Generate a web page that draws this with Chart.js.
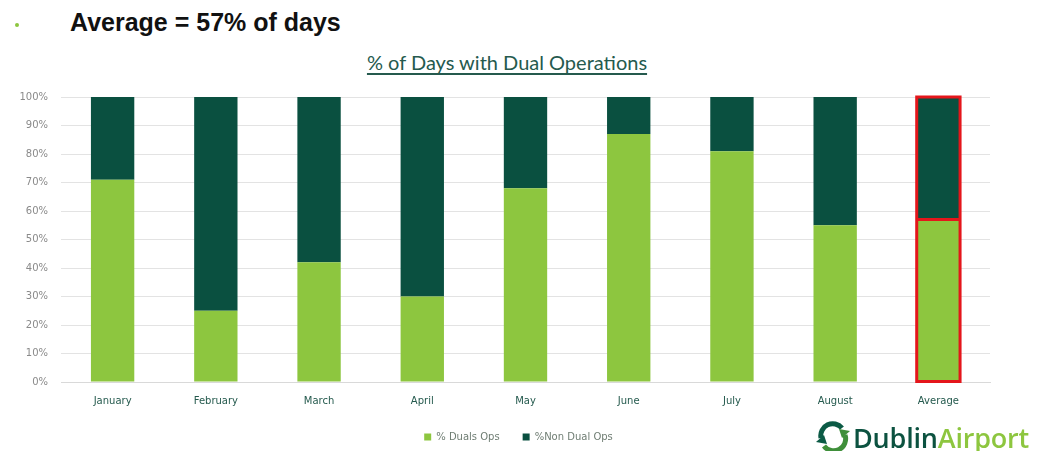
<!DOCTYPE html>
<html>
<head>
<meta charset="utf-8">
<script src="https://cdn.jsdelivr.net/npm/chart.js@4"></script>
<style>
  body { margin: 0; background: #fff; width: 1037px; height: 451px; overflow: hidden; position: relative; }
  #dot { position: absolute; left: 15px; top: 23px; width: 4px; height: 4px; border-radius: 2px; background: #8dc63f; }
  #heading { position: absolute; left: 70px; top: 8px; font: bold 25px "Liberation Sans", Arial, sans-serif; color: #111; }
  #subtitle { position: absolute; left: 0; width: 1014px; top: 50px; text-align: center; font: 20px Lato, "Open Sans", sans-serif; color: #255a4e; text-decoration: underline; text-underline-offset: 3px; }
  #logo { position: absolute; left: 815px; top: 420px; height: 34px; display: flex; align-items: center; }
  #logo span { font: 600 27px "Open Sans", sans-serif; letter-spacing: -0.2px; }
  #wrap { position: absolute; left: 0; top: 0; width: 1037px; height: 451px; }
</style>
</head>
<body>
<div id="dot"></div>
<div id="heading">Average = 57% of days</div>
<div id="subtitle">% of Days with Dual Operations</div>
<div id="wrap"><canvas id="myChart"></canvas></div>
<div id="logo">
  <svg width="36" height="32" viewBox="0 0 36 32">
    <path d="M6 17 A12 12 0 0 1 27 7" stroke="#0b5a45" stroke-width="5" fill="none"/>
    <path d="M30 14 A12 12 0 0 1 9 25" stroke="#3f8f3a" stroke-width="5" fill="none"/>
    <path d="M1 21 L9 14 L12 23 Z" fill="#0b5a45"/>
    <path d="M35 10 L27 17 L24 8 Z" fill="#3f8f3a"/>
  </svg>
  <span style="color:#0c5240;margin-left:2px">Dublin</span><span style="color:#8dc63f">Airport</span>
</div>
<script>
const months = ["January", "February", "March", "April", "May", "June", "July", "August", "Average"]
const dualOps = [71, 25, 42, 30, 68, 87, 81, 55, 57]
const nonDualOps = [29, 75, 58, 70, 32, 13, 19, 45, 43]
const yTicks = [0, 10, 20, 30, 40, 50, 60, 70, 80, 90, 100]
const highlightCategory = "Average"

const lightGreen = "#8dc63f"
const darkGreen = "#0a5040"
const highlight = "#e4161b"
const smallFont = "'DejaVu Sans', sans-serif"

// red outline round the whole Average column, plus the split line
const outlinePlugin = {
    id: "outline",
    afterDatasetsDraw(chart) {
        let i = months.indexOf(highlightCategory)
        let low = chart.getDatasetMeta(0).data[i]
        let high = chart.getDatasetMeta(1).data[i]
        let ctx = chart.ctx
        ctx.save()
        ctx.strokeStyle = highlight
        ctx.lineWidth = 3
        ctx.strokeRect(low.x - low.width / 2, high.y, low.width, low.base - high.y)
        ctx.beginPath()
        ctx.moveTo(low.x - low.width / 2, low.y)
        ctx.lineTo(low.x + low.width / 2, low.y)
        ctx.stroke()
        ctx.restore()
    }
}

let htmlChart = document.getElementById("myChart")
let chart = new Chart(htmlChart, {
    type: "bar",
    data: {
        labels: months,
        datasets: [
            {
                label: "% Duals Ops",
                data: dualOps,
                backgroundColor: lightGreen,
            },
            {
                label: "%Non Dual Ops",
                data: nonDualOps,
                backgroundColor: darkGreen,
            }
        ]
    },
    plugins: [outlinePlugin],
    options: {
        responsive: true,
        maintainAspectRatio: false,
        animation: false,
        categoryPercentage: 1,
        barPercentage: 0.42,
        layout: {
            padding: { top: 97, right: 0, bottom: -1, left: 0 }
        },
        plugins: {
            legend: {
                display: true,
                position: "bottom",
                labels: {
                    boxWidth: 7,
                    boxHeight: 7,
                    padding: 23,
                    color: "#6f7d73",
                    font: { family: smallFont, size: 10 }
                }
            },
            tooltip: { enabled: false }
        },
        scales: {
            x: {
                stacked: true,
                grid: { display: false, drawTicks: false },
                border: { color: "#d9d9d9" },
                ticks: {
                    color: "#255a4e",
                    padding: 13,
                    font: { family: smallFont, size: 10 }
                },
                afterFit: (scale) => { scale.height = 27 }
            },
            y: {
                stacked: true,
                min: 0,
                max: 100,
                afterBuildTicks: (scale) => { scale.ticks = yTicks.map(v => ({ value: v })) },
                grid: { color: "#e3e3e3", drawTicks: false },
                border: { display: false },
                ticks: {
                    color: "#8a8a8a",
                    padding: 13,
                    font: { family: smallFont, size: 10 },
                    callback: (v) => v + "%"
                },
                afterFit: (scale) => { scale.width = 61 }
            },
            // empty right-hand axis, only keeps the blank margin on the right
            yRight: {
                position: "right",
                grid: { display: false },
                border: { display: false },
                ticks: { display: false },
                afterFit: (scale) => { scale.width = 47 }
            }
        }
    }
})
</script>
</body>
</html>
